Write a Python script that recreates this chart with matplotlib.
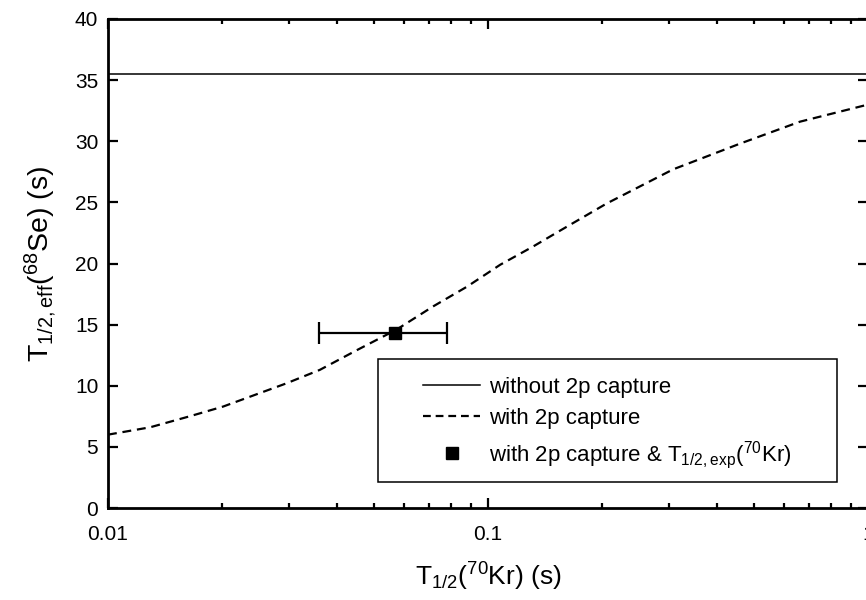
import matplotlib; matplotlib.use("Agg")
import matplotlib.pyplot as plt
from matplotlib.lines import Line2D
from matplotlib.patches import Rectangle
from matplotlib.ticker import LogLocator, FixedLocator, FixedFormatter, NullFormatter
import numpy as np

plt.rcParams.update({"font.family": "Liberation Sans", "mathtext.default": "regular"})

# effective 68Se half-life vs 70Kr half-life
t_kr = [0.010, 0.0129, 0.0164, 0.0201, 0.0241, 0.0295, 0.0361, 0.0451, 0.0575,
        0.0718, 0.088, 0.1077, 0.1316, 0.155, 0.205, 0.307, 0.46, 0.662, 1.0]
t_eff_2p = [6.0, 6.6, 7.5, 8.3, 9.2, 10.2, 11.3, 12.9, 14.6,
            16.5, 18.1, 19.9, 21.4, 22.7, 24.9, 27.7, 29.8, 31.6, 33.0]
t_eff_no2p = 35.5

# measured 70Kr half-life and resulting effective value
kr_exp = 0.057
kr_exp_err = 0.021
eff_exp = 14.35

fig = plt.figure(figsize=(8.66, 6.0), dpi=100)
ax = fig.add_axes([108/866, 92/600, 760/866, 489/600])

ax.axhline(t_eff_no2p, color="black", lw=1.1)
ax.plot(t_kr, t_eff_2p, color="black", lw=1.6, ls=(0, (4, 2.6)))
ax.errorbar([kr_exp], [eff_exp], xerr=[kr_exp_err], fmt="s", color="black",
            ms=8.5, elinewidth=1.6, capsize=8, capthick=1.6)

ax.set_xscale("log")
ax.set_xlim(0.01, 1)
ax.set_ylim(0, 40)
ax.xaxis.set_major_locator(FixedLocator([0.01, 0.1, 1]))
ax.xaxis.set_major_formatter(FixedFormatter(["0.01", "0.1", "1"]))
ax.xaxis.set_minor_locator(LogLocator(base=10, subs=np.arange(2, 10)))
ax.xaxis.set_minor_formatter(NullFormatter())
ax.set_yticks(np.arange(0, 41, 5))

ax.tick_params(which="both", direction="in", top=True, right=True, labelsize=15, width=1.6)
ax.tick_params(which="major", length=7)
ax.tick_params(which="minor", length=3.5)
ax.tick_params(axis="x", which="major", pad=12)
ax.tick_params(axis="y", which="major", pad=7)
for s in ax.spines.values():
    s.set_linewidth(2.0)

ax.set_xlabel("T$_{1/2}$($^{70}$Kr) (s)", fontsize=19, labelpad=12)
ax.set_ylabel("T$_{1/2, eff}$($^{68}$Se) (s)", fontsize=20.5, labelpad=12)

# legend: frame drawn by hand so the side padding can be wider than top/bottom
ax.add_patch(Rectangle((0.355, 0.053), 0.604, 0.252, transform=ax.transAxes,
                       fill=False, ec="black", lw=1.1, zorder=5))
handles = [Line2D([], [], color="black", lw=1.1),
           Line2D([], [], color="black", lw=1.6, ls=(0, (3.5, 2.2))),
           Line2D([], [], color="black", marker="s", ms=8.5, ls="none")]
labels = ["without 2p capture", "with 2p capture",
          "with 2p capture & T$_{1/2,exp}$($^{70}$Kr)"]
ax.legend(handles, labels, loc="upper left", bbox_to_anchor=(0.4145, 0.268),
          frameon=False, fontsize=16, handlelength=2.57, handletextpad=0.4,
          labelspacing=0.45, borderpad=0, borderaxespad=0)

fig.savefig("out.png", dpi=100, facecolor="white")
